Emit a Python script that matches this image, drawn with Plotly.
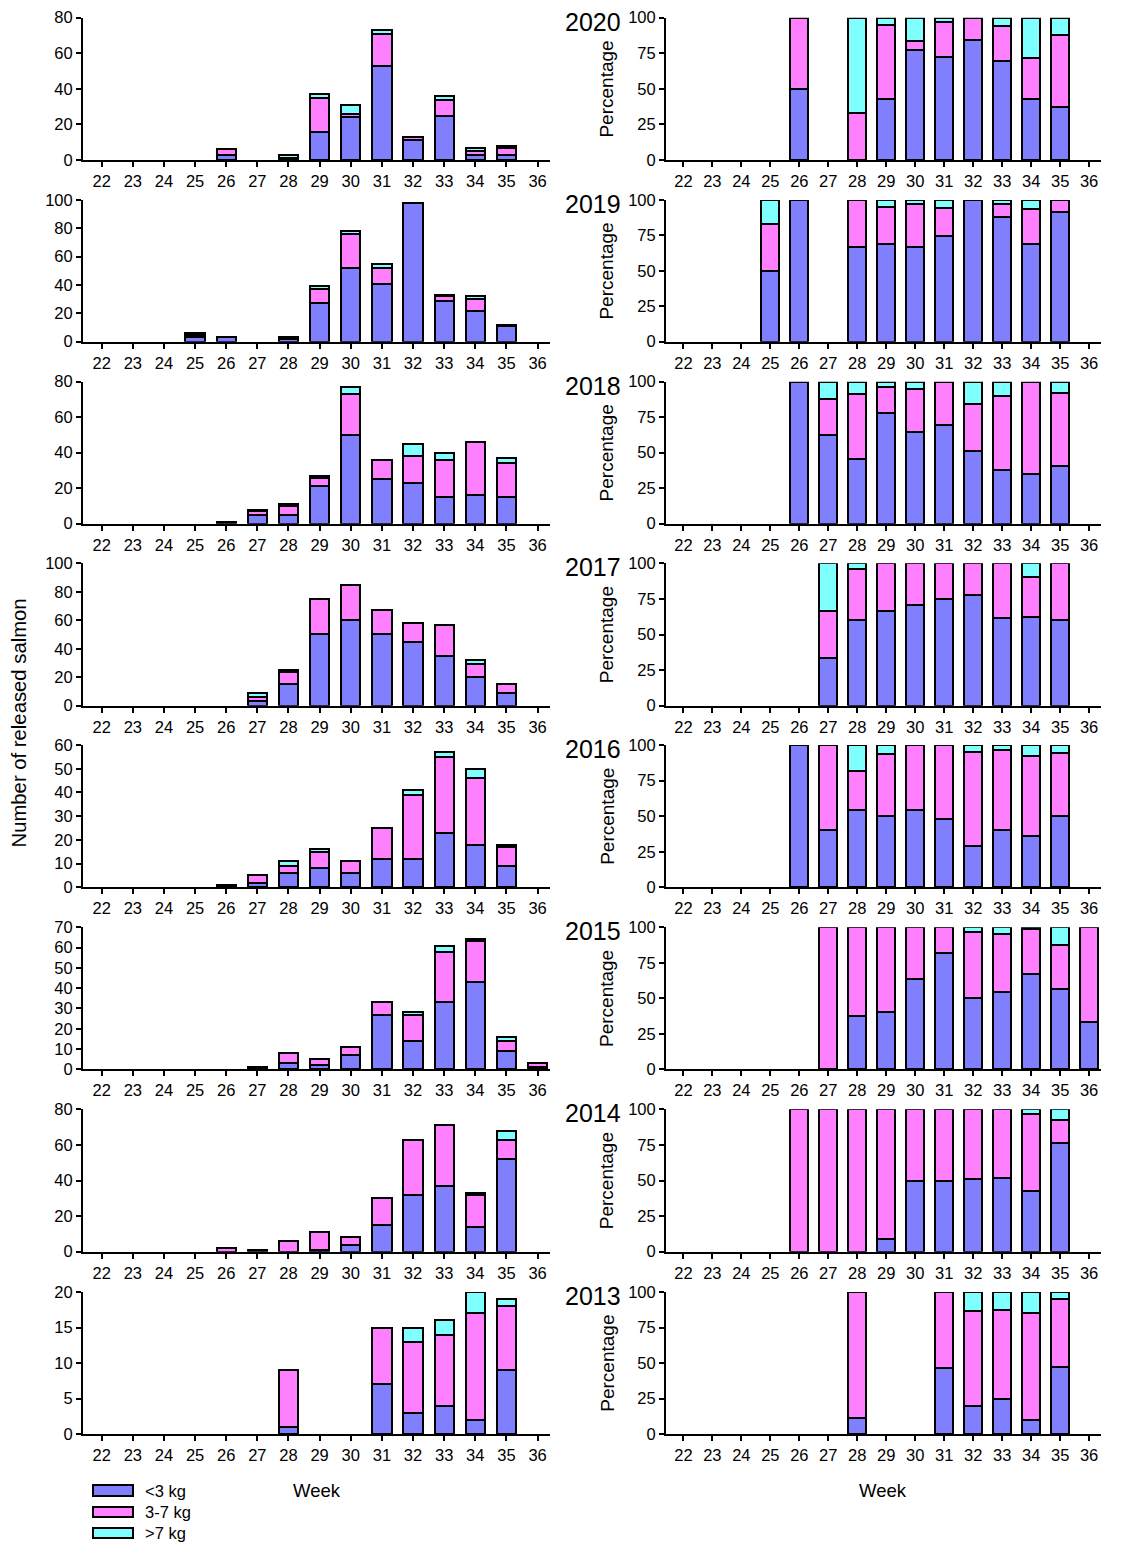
import plotly.graph_objects as go

weeks = list(range(22, 37))
years = [2020, 2019, 2018, 2017, 2016, 2015, 2014, 2013]
series_names = ["<3 kg", "3-7 kg", ">7 kg"]
series_colors = ["#8080FF", "#FF80FF", "#80FFFF"]

# ---- Number of released salmon per week (weeks 22..36) ----
n_2020_lt3 = [0, 0, 0, 0, 3, 0, 0, 16, 24, 53, 11, 25, 3, 3, 0]
n_2020_mid = [0, 0, 0, 0, 3, 0, 1, 19, 2, 18, 2, 9, 2, 4, 0]
n_2020_gt7 = [0, 0, 0, 0, 0, 0, 2, 2, 5, 2, 0, 2, 2, 1, 0]

n_2019_lt3 = [0, 0, 0, 3, 3, 0, 2, 27, 52, 41, 98, 29, 22, 11, 0]
n_2019_mid = [0, 0, 0, 2, 0, 0, 1, 10, 24, 11, 0, 3, 8, 1, 0]
n_2019_gt7 = [0, 0, 0, 1, 0, 0, 0, 2, 2, 3, 0, 1, 2, 0, 0]

n_2018_lt3 = [0, 0, 0, 0, 1, 5, 5, 21, 50, 25, 23, 15, 16, 15, 0]
n_2018_mid = [0, 0, 0, 0, 0, 2, 5, 5, 23, 11, 15, 21, 30, 19, 0]
n_2018_gt7 = [0, 0, 0, 0, 0, 1, 1, 1, 4, 0, 7, 4, 0, 3, 0]

n_2017_lt3 = [0, 0, 0, 0, 0, 3, 15, 50, 60, 50, 45, 35, 20, 9, 0]
n_2017_mid = [0, 0, 0, 0, 0, 3, 9, 25, 25, 17, 13, 22, 9, 6, 0]
n_2017_gt7 = [0, 0, 0, 0, 0, 3, 1, 0, 0, 0, 0, 0, 3, 0, 0]

n_2016_lt3 = [0, 0, 0, 0, 1, 2, 6, 8, 6, 12, 12, 23, 18, 9, 0]
n_2016_mid = [0, 0, 0, 0, 0, 3, 3, 7, 5, 13, 27, 32, 28, 8, 0]
n_2016_gt7 = [0, 0, 0, 0, 0, 0, 2, 1, 0, 0, 2, 2, 4, 1, 0]

n_2015_lt3 = [0, 0, 0, 0, 0, 0, 3, 2, 7, 27, 14, 33, 43, 9, 1]
n_2015_mid = [0, 0, 0, 0, 0, 1, 5, 3, 4, 6, 13, 25, 20, 5, 2]
n_2015_gt7 = [0, 0, 0, 0, 0, 0, 0, 0, 0, 0, 1, 3, 1, 2, 0]

n_2014_lt3 = [0, 0, 0, 0, 0, 0, 0, 1, 4, 15, 32, 37, 14, 52, 0]
n_2014_mid = [0, 0, 0, 0, 2, 1, 6, 10, 4, 15, 31, 34, 18, 11, 0]
n_2014_gt7 = [0, 0, 0, 0, 0, 0, 0, 0, 0, 0, 0, 0, 1, 5, 0]

n_2013_lt3 = [0, 0, 0, 0, 0, 0, 1, 0, 0, 7, 3, 4, 2, 9, 0]
n_2013_mid = [0, 0, 0, 0, 0, 0, 8, 0, 0, 8, 10, 10, 15, 9, 0]
n_2013_gt7 = [0, 0, 0, 0, 0, 0, 0, 0, 0, 0, 2, 2, 3, 1, 0]

# ---- Percentage per week (weeks 22..36) ----
p_2020_lt3 = [0, 0, 0, 0, 50, 0, 0, 43.2, 77.4, 72.6, 84.6, 69.4, 42.9, 37.5, 0]
p_2020_mid = [0, 0, 0, 0, 50, 0, 33.3, 51.4, 6.5, 24.7, 15.4, 25.0, 28.6, 50.0, 0]
p_2020_gt7 = [0, 0, 0, 0, 0, 0, 66.7, 5.4, 16.1, 2.7, 0, 5.6, 28.5, 12.5, 0]

p_2019_lt3 = [0, 0, 0, 50, 100, 0, 66.7, 69.2, 66.7, 74.5, 100, 87.9, 68.75, 91.7, 0]
p_2019_mid = [0, 0, 0, 33.3, 0, 0, 33.3, 25.6, 30.8, 20.0, 0, 9.1, 25.0, 8.3, 0]
p_2019_gt7 = [0, 0, 0, 16.7, 0, 0, 0, 5.1, 2.6, 5.5, 0, 3.0, 6.25, 0, 0]

p_2018_lt3 = [0, 0, 0, 0, 100, 62.5, 45.5, 77.8, 64.9, 69.4, 51.1, 37.5, 34.8, 40.5, 0]
p_2018_mid = [0, 0, 0, 0, 0, 25.0, 45.5, 18.5, 29.9, 30.6, 33.3, 52.5, 65.2, 51.4, 0]
p_2018_gt7 = [0, 0, 0, 0, 0, 12.5, 9.1, 3.7, 5.2, 0, 15.6, 10.0, 0, 8.1, 0]

p_2017_lt3 = [0, 0, 0, 0, 0, 33.3, 60, 66.7, 70.6, 74.6, 77.6, 61.4, 62.5, 60, 0]
p_2017_mid = [0, 0, 0, 0, 0, 33.3, 36, 33.3, 29.4, 25.4, 22.4, 38.6, 28.1, 40, 0]
p_2017_gt7 = [0, 0, 0, 0, 0, 33.3, 4, 0, 0, 0, 0, 0, 9.4, 0, 0]

p_2016_lt3 = [0, 0, 0, 0, 100, 40, 54.5, 50, 54.5, 48, 29.3, 40.4, 36, 50, 0]
p_2016_mid = [0, 0, 0, 0, 0, 60, 27.3, 43.75, 45.5, 52, 65.9, 56.1, 56, 44.4, 0]
p_2016_gt7 = [0, 0, 0, 0, 0, 0, 18.2, 6.25, 0, 0, 4.9, 3.5, 8, 5.6, 0]

p_2015_lt3 = [0, 0, 0, 0, 0, 0, 37.5, 40, 63.6, 81.8, 50, 54.1, 67.2, 56.25, 33.3]
p_2015_mid = [0, 0, 0, 0, 0, 100, 62.5, 60, 36.4, 18.2, 46.4, 41.0, 31.3, 31.25, 66.7]
p_2015_gt7 = [0, 0, 0, 0, 0, 0, 0, 0, 0, 0, 3.6, 4.9, 1.5, 12.5, 0]

p_2014_lt3 = [0, 0, 0, 0, 0, 0, 0, 9.1, 50, 50, 50.8, 52.1, 42.4, 76.5, 0]
p_2014_mid = [0, 0, 0, 0, 100, 100, 100, 90.9, 50, 50, 49.2, 47.9, 54.6, 16.2, 0]
p_2014_gt7 = [0, 0, 0, 0, 0, 0, 0, 0, 0, 0, 0, 0, 3.0, 7.3, 0]

p_2013_lt3 = [0, 0, 0, 0, 0, 0, 11.1, 0, 0, 46.7, 20, 25, 10, 47.4, 0]
p_2013_mid = [0, 0, 0, 0, 0, 0, 88.9, 0, 0, 53.3, 66.7, 62.5, 75, 47.4, 0]
p_2013_gt7 = [0, 0, 0, 0, 0, 0, 0, 0, 0, 0, 13.3, 12.5, 15, 5.2, 0]

# left axis ranges / steps per year
count_ymax = [80, 100, 80, 100, 60, 70, 80, 20]
count_dtick = [20, 20, 20, 20, 10, 10, 20, 5]
pct_ticks = [0, 25, 50, 75, 100]

counts = {
    2020: (n_2020_lt3, n_2020_mid, n_2020_gt7),
    2019: (n_2019_lt3, n_2019_mid, n_2019_gt7),
    2018: (n_2018_lt3, n_2018_mid, n_2018_gt7),
    2017: (n_2017_lt3, n_2017_mid, n_2017_gt7),
    2016: (n_2016_lt3, n_2016_mid, n_2016_gt7),
    2015: (n_2015_lt3, n_2015_mid, n_2015_gt7),
    2014: (n_2014_lt3, n_2014_mid, n_2014_gt7),
    2013: (n_2013_lt3, n_2013_mid, n_2013_gt7),
}
pcts = {
    2020: (p_2020_lt3, p_2020_mid, p_2020_gt7),
    2019: (p_2019_lt3, p_2019_mid, p_2019_gt7),
    2018: (p_2018_lt3, p_2018_mid, p_2018_gt7),
    2017: (p_2017_lt3, p_2017_mid, p_2017_gt7),
    2016: (p_2016_lt3, p_2016_mid, p_2016_gt7),
    2015: (p_2015_lt3, p_2015_mid, p_2015_gt7),
    2014: (p_2014_lt3, p_2014_mid, p_2014_gt7),
    2013: (p_2013_lt3, p_2013_mid, p_2013_gt7),
}

# ---- layout geometry (page pixels of the reference) ----
PAGE_OFF = 8            # default body margin of the html page
W, H = 1141 - PAGE_OFF, 1544 - PAGE_OFF
FONT = "Liberation Sans, Arial, sans-serif"
TICK_FONT = dict(family=FONT, size=16.5, color="black")
row_top = [17.7, 200, 381.7, 563.3, 745, 927.3, 1109.3, 1292]
row_bot = [160, 341.7, 523.7, 705.7, 887.3, 1069.3, 1251.7, 1434]
left_x = (83, 550)
right_x = (666, 1100.7)


def px(x):
    return (x - PAGE_OFF) / W


def py(y):
    return 1 - (y - PAGE_OFF) / H


def no_zero(vals):
    # empty weeks are drawn as gaps (no bar)
    return [v if v else None for v in vals]


fig = go.Figure()
layout = dict(
    template="none",
    width=W, height=H,
    margin=dict(l=0, r=0, t=0, b=0, pad=0, autoexpand=False),
    paper_bgcolor="white", plot_bgcolor="white",
    barmode="stack", showlegend=False,
    font=dict(family=FONT, color="black"),
)
annotations = []
shapes = []


def xaxis_cfg(dom):
    return dict(
        domain=[px(dom[0]), px(dom[1])], range=[21.4, 36.4],
        tickmode="array", tickvals=weeks, ticktext=[str(w) for w in weeks],
        ticks="outside", ticklen=5, tickwidth=1.5, tickcolor="black",
        showline=True, linecolor="black", linewidth=2,
        showgrid=False, zeroline=False, tickfont=TICK_FONT, fixedrange=True,
        automargin=False,
    )


def yaxis_cfg(r, anchor, ymax, tickvals):
    return dict(
        domain=[py(row_bot[r]), py(row_top[r])], range=[0, ymax],
        anchor=anchor, tickmode="array", tickvals=tickvals,
        ticks="outside", ticklen=5, tickwidth=1.5, tickcolor="black",
        showline=True, linecolor="black", linewidth=2,
        showgrid=False, zeroline=False, tickfont=TICK_FONT, fixedrange=True,
        automargin=False,
    )


for r, year in enumerate(years):
    li = 2 * r + 1
    ri = 2 * r + 2
    lx, ly = f"x{li}", f"y{li}"
    rx, ry = f"x{ri}", f"y{ri}"
    for vals, name, col in zip(counts[year], series_names, series_colors):
        fig.add_trace(go.Bar(
            x=weeks, y=no_zero(vals), name=name, xaxis=lx, yaxis=ly, width=0.62,
            marker=dict(color=col, line=dict(color="black", width=2)),
        ))
    for vals, name, col in zip(pcts[year], series_names, series_colors):
        fig.add_trace(go.Bar(
            x=weeks, y=no_zero(vals), name=name, xaxis=rx, yaxis=ry, width=0.62,
            marker=dict(color=col, line=dict(color="black", width=2)),
        ))
    xl = xaxis_cfg(left_x)
    xl["anchor"] = ly
    xr = xaxis_cfg(right_x)
    xr["anchor"] = ry
    layout["xaxis" + ("" if li == 1 else str(li))] = xl
    layout["xaxis" + str(ri)] = xr
    ymax = count_ymax[r]
    layout["yaxis" + ("" if li == 1 else str(li))] = yaxis_cfg(
        r, lx, ymax, list(range(0, ymax + 1, count_dtick[r])))
    layout["yaxis" + str(ri)] = yaxis_cfg(r, rx, 100, pct_ticks)

    # year label
    annotations.append(dict(
        text=str(year), xref="paper", yref="paper",
        x=px(623), y=py(row_top[r] + 4), xanchor="right", yanchor="middle",
        showarrow=False, font=dict(family=FONT, size=25, color="black"),
    ))
    # Percentage axis title
    annotations.append(dict(
        text="Percentage", xref="paper", yref="paper",
        x=px(606.7), y=py((row_top[r] + row_bot[r]) / 2),
        xanchor="center", yanchor="middle", textangle=-90,
        showarrow=False, font=dict(family=FONT, size=19, color="black"),
    ))

annotations.append(dict(
    text="Number of released salmon", xref="paper", yref="paper",
    x=px(18.5), y=py(723), xanchor="center", yanchor="middle", textangle=-90,
    showarrow=False, font=dict(family=FONT, size=20.3, color="black"),
))
for cx in (316.5, 883):
    annotations.append(dict(
        text="Week", xref="paper", yref="paper", x=px(cx), y=py(1490),
        xanchor="center", yanchor="middle", showarrow=False,
        font=dict(family=FONT, size=18.5, color="black"),
    ))

# legend (swatches + labels)
legend_rows = [(1485, 1496), (1507, 1517), (1528, 1538)]
for (y0, y1), name, col in zip(legend_rows, series_names, series_colors):
    shapes.append(dict(
        type="rect", xref="paper", yref="paper",
        x0=px(93), x1=px(133), y0=py(y1), y1=py(y0),
        fillcolor=col, line=dict(color="black", width=2),
    ))
    annotations.append(dict(
        text=name, xref="paper", yref="paper", x=px(143), y=py((y0 + y1) / 2),
        xanchor="left", yanchor="middle", showarrow=False,
        font=dict(family=FONT, size=16.5, color="black"),
    ))

layout["annotations"] = annotations
layout["shapes"] = shapes
fig.update_layout(**layout)
fig.write_html("out.html")
